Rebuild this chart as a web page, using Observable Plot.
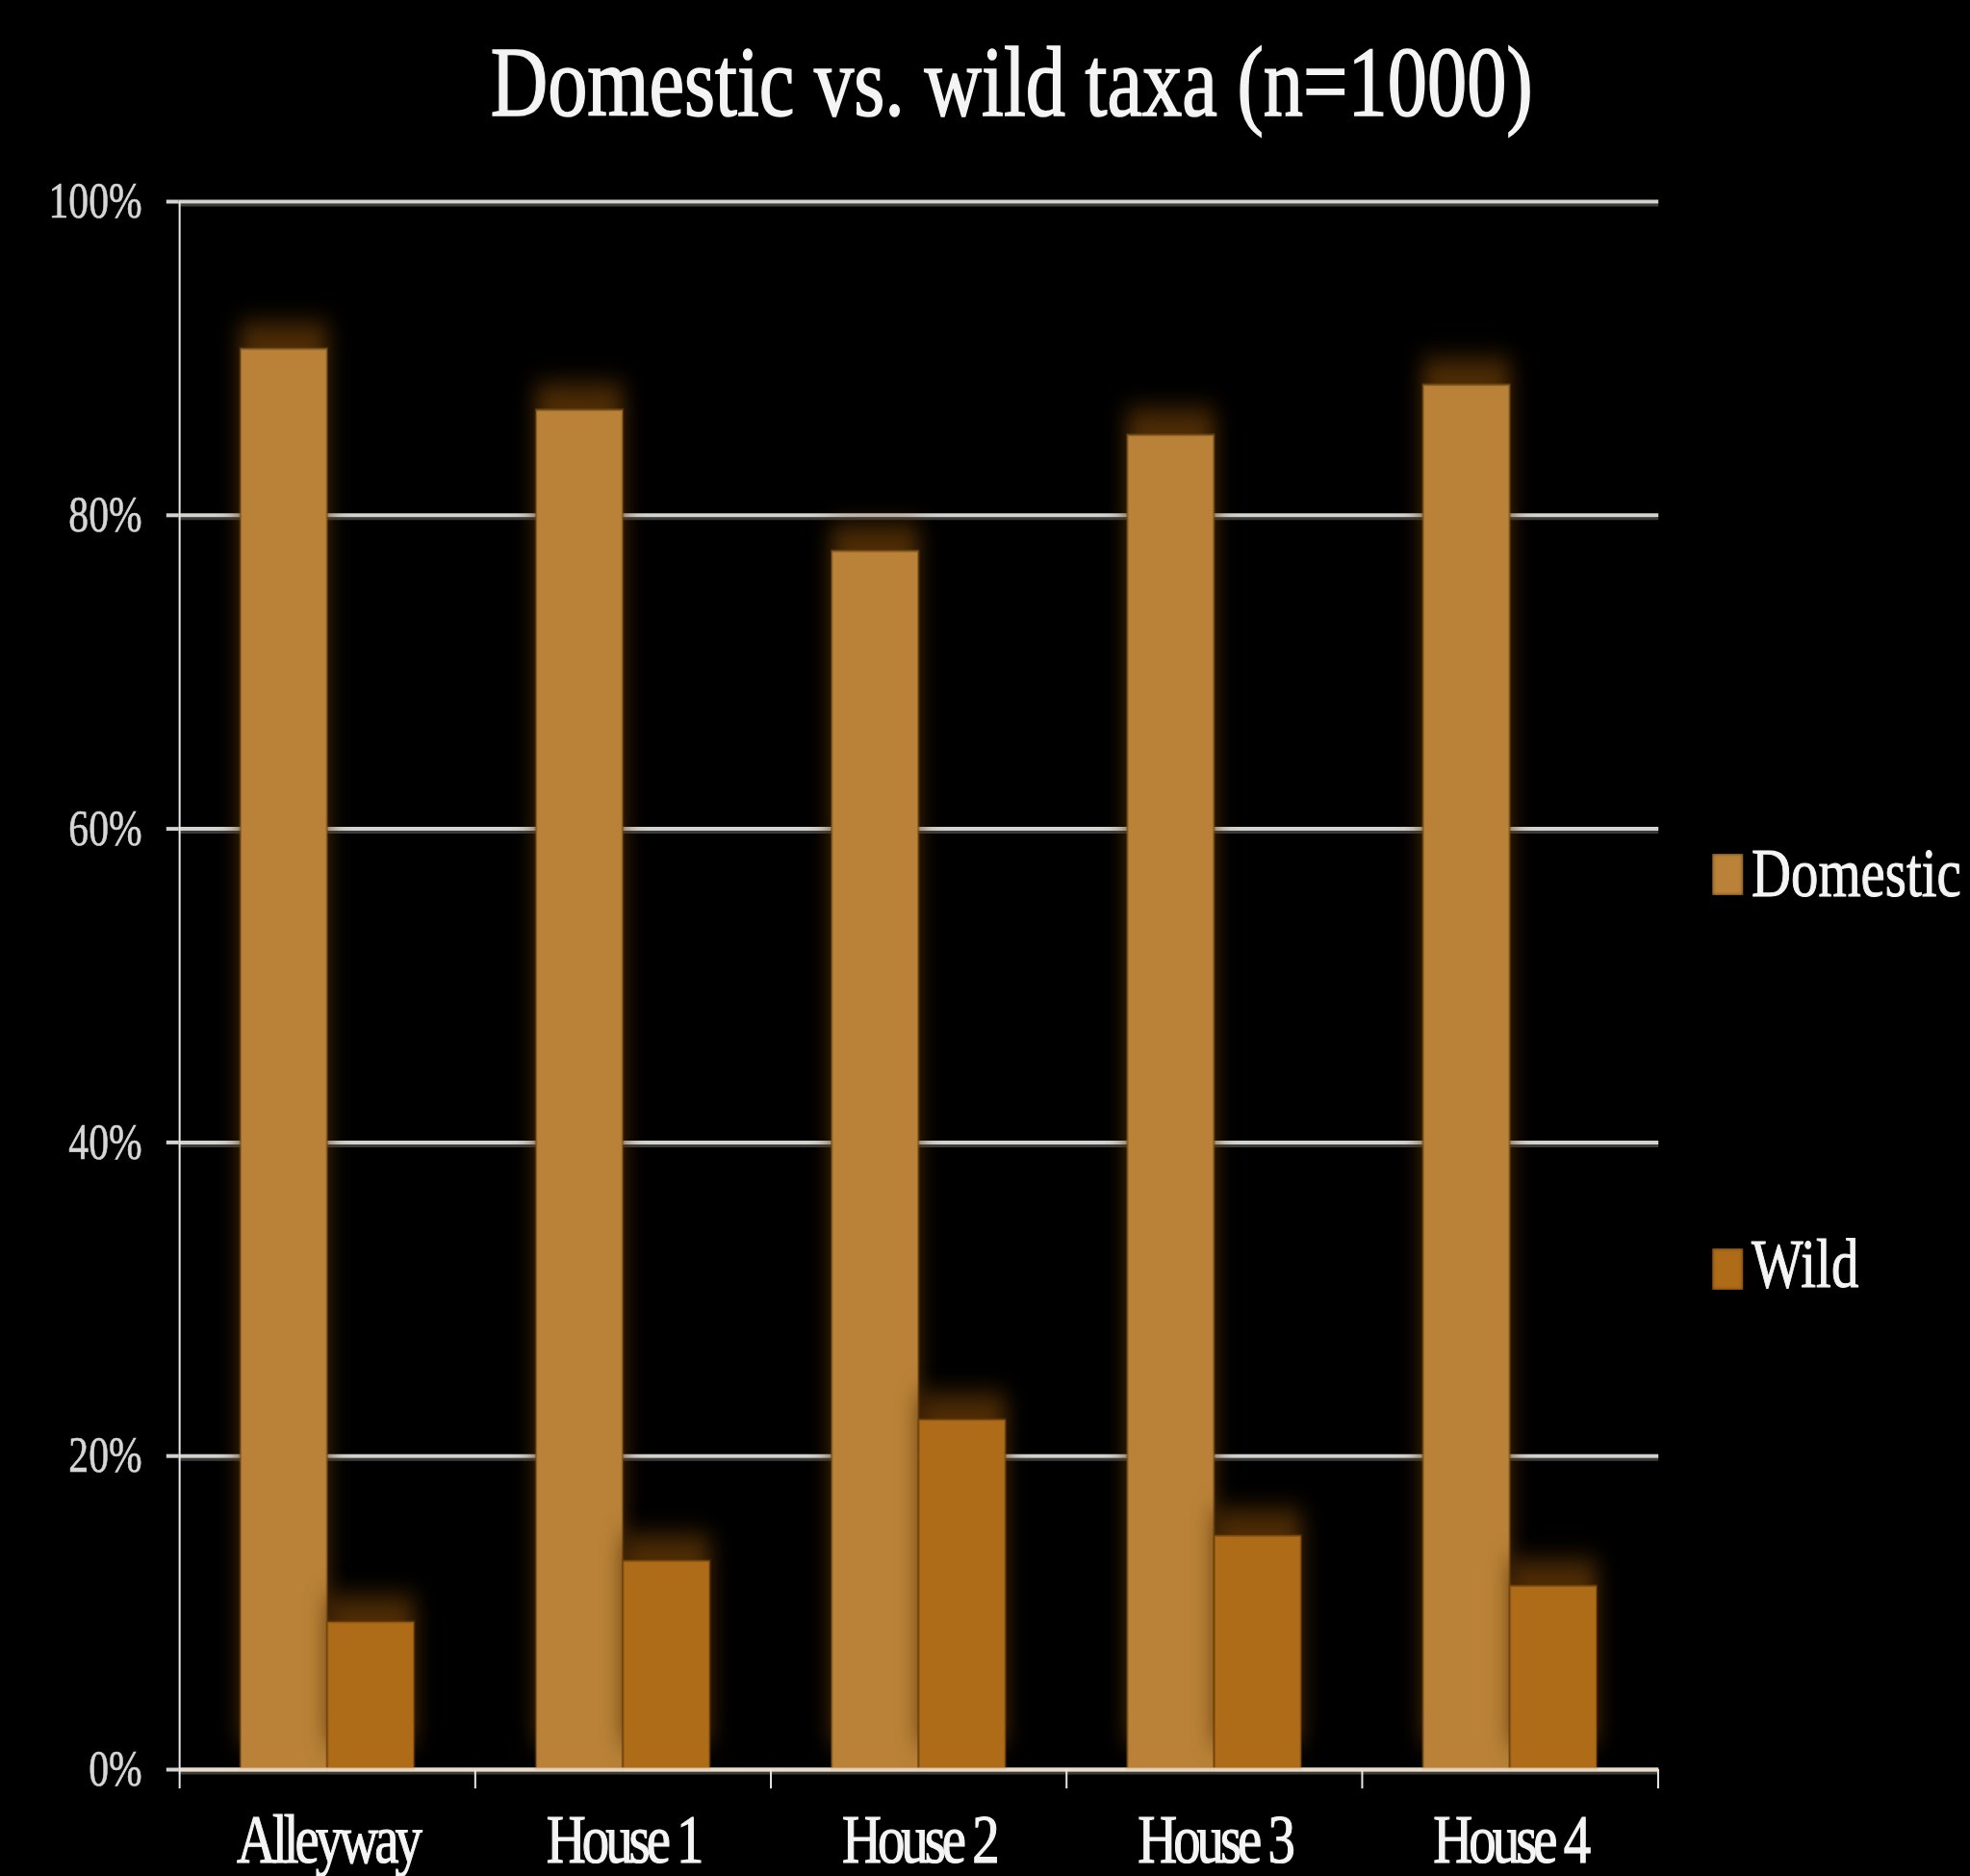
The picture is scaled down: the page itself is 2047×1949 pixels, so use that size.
<!DOCTYPE html>
<html>
<head>
<meta charset="utf-8">
<script src="https://cdn.jsdelivr.net/npm/d3@7"></script>
<script src="https://cdn.jsdelivr.net/npm/@observablehq/plot@0.6"></script>
<style>
  html, body { margin: 0; padding: 0; background: #000; overflow: hidden; }
  #wrap { position: relative; width: 2559px; height: 1949px; transform: scaleX(0.8); transform-origin: 0 0; font-family: "Liberation Serif", "Times New Roman", serif; }
  #title { position: absolute; left: 0; width: 2628px; top: 34px; text-align: center; color: #f4f4f4; font-size: 103px; line-height: 103px; white-space: nowrap; -webkit-text-stroke: 1.6px #f4f4f4; }
  #chart { position: absolute; left: 0; top: 150px; }
  .legend-item { position: absolute; left: 2224px; height: 80px; width: 330px; }
  .legend-item .sw { position: absolute; left: 0; width: 40px; height: 43px; box-shadow: inset 0 0 4px rgba(60,30,0,0.9); }
  .legend-item .lb { position: absolute; left: 51px; top: 0; font-size: 71px; line-height: 71px; color: #f4f4f4; white-space: nowrap; -webkit-text-stroke: 1px #f4f4f4; }
  g[aria-label="bar"] { filter: drop-shadow(0px -26px 13px rgba(92, 52, 6, 0.85)); }
  g[aria-label="x-axis tick label"] text { letter-spacing: -5px; stroke: #f4f4f4; stroke-width: 1.2px; }
  g[aria-label="y-axis tick label"] text { stroke: #d6d6d6; stroke-width: 0.6px; }
</style>
</head>
<body>
<div id="wrap">
  <div id="title"></div>
  <div id="chart"></div>
  <div id="legend"></div>
</div>
<script>
const titleText = "Domestic vs. wild taxa (n=1000)";
const categories = ["Alleyway", "House 1", "House 2", "House 3", "House 4"];
const domestic = [0.906, 0.867, 0.777, 0.851, 0.883];
const wild = [0.094, 0.133, 0.223, 0.149, 0.117];
const seriesNames = ["Domestic", "Wild"];
const seriesColors = ["#b98238", "#ae6c18"];
const yTicks = [0, 0.2, 0.4, 0.6, 0.8, 1];

const rows = categories.flatMap((c, i) => [
  {site: c, series: seriesNames[0], value: domestic[i]},
  {site: c, series: seriesNames[1], value: wild[i]}
]);

const W = 2559, H = 1799, mL = 232, mR = 405, mT = 59, mB = 111;
const step = (W - mL - mR) / categories.length;
const outer = step * 0.206, half = step * 0.5;
const gridColor = "#d2d2ce";
const axisColor = "#e6e6e6";

document.getElementById("title").textContent = titleText;

const chart = Plot.plot({
  width: W, height: H,
  marginLeft: mL, marginRight: mR, marginTop: mT, marginBottom: mB,
  style: {background: "#000", color: "#d8d8d8", fontFamily: "'Liberation Serif', 'Times New Roman', serif", overflow: "visible"},
  x: {domain: categories, padding: 0, axis: null},
  y: {domain: [0, 1], axis: null},
  color: {domain: seriesNames, range: seriesColors},
  marks: [
    Plot.gridY(yTicks, {stroke: "#3c3c3c", strokeOpacity: 1, strokeWidth: 3, dy: 3.5}),
    Plot.gridY(yTicks, {stroke: gridColor, strokeOpacity: 1, strokeWidth: 4}),
    Plot.axisY(yTicks, {tickSize: 16, tickPadding: 32, tickFormat: d3.format(".0%"), stroke: gridColor, strokeWidth: 4, fill: "#d6d6d6", fontSize: 52, label: null}),
    Plot.barY(rows.filter(d => d.series === seriesNames[0]), {x: "site", y: "value", fill: "series", stroke: "#6e4818", strokeOpacity: 0.55, strokeWidth: 3, insetLeft: outer, insetRight: half}),
    Plot.barY(rows.filter(d => d.series === seriesNames[1]), {x: "site", y: "value", fill: "series", stroke: "#6a3e0a", strokeOpacity: 0.45, strokeWidth: 3, insetLeft: half, insetRight: outer}),
    Plot.ruleY([0], {stroke: "#f3dfc4", strokeWidth: 4, strokeOpacity: 0.85}),
    Plot.ruleX([categories[0]], {dx: -step / 2, stroke: axisColor, strokeWidth: 2.5}),
    Plot.axisX({tickSize: 0, tickPadding: 46, fill: "#f4f4f4", fontSize: 71, label: null}),
    Plot.axisX(categories, {tickSize: 20, dx: -step / 2, tickFormat: () => "", stroke: axisColor, strokeWidth: 2.5, label: null}),
    Plot.axisX([categories[categories.length - 1]], {tickSize: 20, dx: step / 2, tickFormat: () => "", stroke: axisColor, strokeWidth: 2.5, label: null})
  ]
});
document.getElementById("chart").appendChild(chart);

const legendTops = [872, 1278];
const swatchOffsets = [15, 19];
const legend = document.getElementById("legend");
seriesNames.forEach((name, i) => {
  const item = document.createElement("div");
  item.className = "legend-item";
  item.style.top = legendTops[i] + "px";
  const sw = document.createElement("div");
  sw.className = "sw";
  sw.style.top = swatchOffsets[i] + "px";
  sw.style.background = seriesColors[i];
  const lb = document.createElement("div");
  lb.className = "lb";
  lb.textContent = name;
  item.appendChild(sw);
  item.appendChild(lb);
  legend.appendChild(item);
});
</script>
</body>
</html>
